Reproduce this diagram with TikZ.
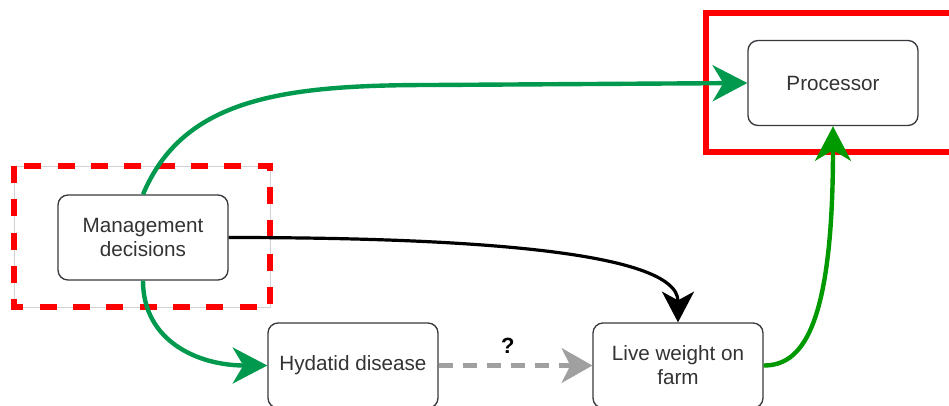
\documentclass[tikz,border=0pt]{standalone}
\usepackage{fontspec}
\setmainfont{Liberation Sans}
\usetikzlibrary{arrows.meta}
\definecolor{gA}{RGB}{0,153,77}
\definecolor{gB}{RGB}{0,153,0}
\definecolor{txt}{RGB}{51,51,51}
\definecolor{bord}{RGB}{54,57,61}
\definecolor{gry}{RGB}{160,160,160}
\definecolor{lgry}{RGB}{210,210,210}
\begin{document}
\begin{tikzpicture}[x=0.75pt,y=-0.75pt,
  box/.style={draw=bord, line width=1pt, rounded corners=7.5pt,
    minimum width=127.5pt, minimum height=63.75pt, align=center,
    text=txt, fill=white, font=\fontsize{15.5}{18}\selectfont},
  bigtip/.style={-{Stealth[length=26pt,width=27pt,inset=8pt]}},
  midtip/.style={-{Stealth[length=23pt,width=24pt,inset=6.5pt]}},
  greenA/.style={draw=gA, line width=3.3pt, bigtip},
  greenB/.style={draw=gB, line width=3.3pt, bigtip},
  blackarrow/.style={draw=black, line width=2.4pt, midtip},
  grayarrow/.style={draw=gry, line width=3.2pt, dash pattern=on 11pt off 7pt, -{Stealth[length=23pt,width=26pt,inset=6.5pt,sep=0pt]}},
  qlabel/.style={font=\fontsize{16.5}{18}\selectfont\bfseries, text=black, inner sep=7.5pt}
]
\useasboundingbox (0,0) rectangle (949,405);
\clip (0,0) rectangle (949,405);

% highlight frames
\draw[lgry, line width=0.6pt] (14,166) rectangle (270,307);
\draw[red, line width=3.8pt, dash pattern=on 12.75pt off 12.25pt] (14,166) rectangle (270,307);
\draw[red, line width=4pt] (706,13) rectangle (975,152);

% nodes
\node[box] (mgmt) at (143,237.5) {Management\\decisions};
\node[box] (proc) at (833,83) {Processor};
\node[box] (hyd) at (353,365.5) {Hydatid disease};
\node[box] (lw) at (678,365.5) {Live weight on\\farm};
\coordinate (g1) at (430,85);

% connectors
\draw[greenA] (mgmt.north) .. controls +(40,-95) and +(-150,0) .. (g1) -- (proc.west);
\draw[greenA] (mgmt.south) .. controls +(0,60) and +(-70,0) .. (hyd.west);
\draw[blackarrow] (mgmt.east) .. controls +(222,0) and +(0,-73) .. (lw.north);
\draw[grayarrow] (hyd.east) -- node[pos=0.45, above, qlabel] {?} (lw.west);
\draw[greenB] (lw.east) .. controls +(37,0) and +(0,205) .. (proc.south);
\end{tikzpicture}
\end{document}
